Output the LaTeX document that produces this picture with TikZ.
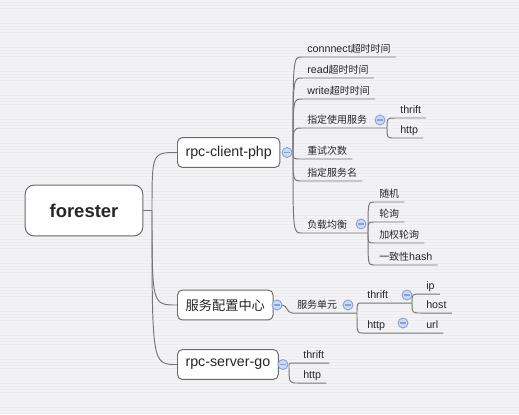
\documentclass[tikz,border=0pt]{standalone}
\usepackage{fontspec}
\setmainfont{Liberation Sans}
\newfontfamily\cjk[Scale=0.93]{Noto Sans CJK SC}
\usepackage{tikz}
\usetikzlibrary{positioning}
\definecolor{canvas}{RGB}{236,236,238}
\definecolor{stripe}{RGB}{243,243,245}
\definecolor{linkgray}{RGB}{118,118,118}
\definecolor{boxgray}{RGB}{105,105,105}
\definecolor{togglefill}{RGB}{203,218,242}
\definecolor{toggleline}{RGB}{135,162,214}
\definecolor{inkgray}{RGB}{38,38,38}

\begin{document}
\begin{tikzpicture}[x=0.02cm, y=-0.02cm,
        topic/.style={draw=boxgray, fill=white, line width=0.55pt, rounded corners=2.8pt, anchor=west, minimum height=17pt, inner xsep=4.6pt, text=inkgray, font=\fontsize{8.1}{10}\selectfont},
        leaf/.style={anchor=south west, inner xsep=2.8pt, inner ysep=1.4pt, text depth=1pt, text=inkgray, font=\fontsize{6.1}{7}\selectfont},
        toggle/.style={circle, draw=toggleline, fill=togglefill, line width=0.5pt, minimum size=5.7pt, inner sep=0pt, path picture={\draw[toggleline, line width=0.6pt] ([xshift=-1.8pt]path picture bounding box.center) -- ([xshift=1.8pt]path picture bounding box.center);}},
        link/.style={draw=linkgray, line width=0.55pt},
        branch/.style={to path={.. controls (\tikztostart |- \tikztotarget) .. (\tikztotarget)}}]
        \useasboundingbox (0,0) rectangle (519,414);
        \fill[canvas] (0,0) rectangle (519,414);
        \foreach \row in {1,4,...,414} \draw[stripe, line width=0.6pt] (0,\row) -- (519,\row);

        % central topic and main branches
        \node[draw=boxgray, fill=white, line width=0.55pt, rounded corners=5pt, minimum width=66.9pt, minimum height=28.9pt, text=inkgray, font=\fontsize{10.5}{12}\selectfont\bfseries] (root) at (84,210.5) {forester};
        \node[topic] (cphp) at (177,152.5) {rpc-client-php};
        \node[topic] (cfg) at (177,305) {\cjk 服务配置中心};
        \node[topic] (sgo) at (177,364.5) {rpc-server-go};

        \coordinate (hub) at (152,210.5);
        \draw[link] (root.east) -- (hub);
        \draw[link] (hub) to[branch] (cphp.west);
        \draw[link] (hub) to[branch] (cfg.west);
        \draw[link] (hub) to[branch] (sgo.west);

        % rpc-client-php
        \coordinate (fA) at (293,152.5);
        \node[leaf] (conn) at (302,57) {connnect\cjk 超时时间};
        \node[leaf] (rdto) at (302,78) {read\cjk 超时时间};
        \node[leaf] (wrto) at (302,99) {write\cjk 超时时间};
        \node[leaf] (usesvc) at (302,128) {\cjk 指定使用服务};
        \node[leaf] (retry) at (302,159) {\cjk 重试次数};
        \node[leaf] (svcname) at (302,181) {\cjk 指定服务名};
        \node[leaf] (lb) at (302,233) {\cjk 负载均衡};
        \foreach \leafnode in {conn, rdto, wrto, retry, svcname}
            \draw[link] (fA) to[branch] (\leafnode.south west) -- (\leafnode.south east);

        \coordinate (fB) at (387,128);
        \draw[link] (fA) to[branch] (usesvc.south west) -- (fB);
        \node[leaf] (uthrift) at (395,118) {thrift};
        \node[leaf] (uhttp) at (395,138) {http};
        \foreach \leafnode in {uthrift, uhttp}
            \draw[link] (fB) to[branch] (\leafnode.south west) -- (\leafnode.south east);

        \coordinate (fC) at (368,233);
        \draw[link] (fA) to[branch] (lb.south west) -- (fC);
        \node[leaf] (rand) at (374,202) {\cjk 随机};
        \node[leaf] (rr) at (374,222) {\cjk 轮询};
        \node[leaf] (wrr) at (374,243) {\cjk 加权轮询};
        \node[leaf] (chash) at (374,265) {\cjk 一致性\rmfamily hash};
        \foreach \leafnode in {rand, rr, wrr, chash}
            \draw[link] (fC) to[branch] (\leafnode.south west) -- (\leafnode.south east);

        % 服务配置中心
        \coordinate (gB) at (282,305);
        \coordinate (fD) at (357,313);
        \coordinate (fE) at (412,303);
        \node[leaf] (unit) at (292,313) {\cjk 服务单元};
        \draw[link] (gB) to[out=0, in=180] (unit.south west) -- (fD);
        \node[leaf] (cthrift) at (362,303) {thrift};
        \node[leaf] (chttp) at (362,333) {http};
        \node[leaf] (url) at (421,333) {url};
        \draw[link] (fD) to[branch] (cthrift.south west) -- (fE);
        \draw[link] (fD) to[branch] (chttp.south west) -- (url.south east);
        \node[leaf] (ip) at (421,294) {ip};
        \node[leaf] (host) at (421,313) {host};
        \foreach \leafnode in {ip, host}
            \draw[link] (fE) to[branch] (\leafnode.south west) -- (\leafnode.south east);

        % rpc-server-go
        \coordinate (fF) at (289,364.5);
        \node[leaf] (sthrift) at (298,363) {thrift};
        \node[leaf] (shttp) at (298,383) {http};
        \foreach \leafnode in {sthrift, shttp}
            \draw[link] (fF) to[branch] (\leafnode.south west) -- (\leafnode.south east);

        % collapse toggles
        \node[toggle] (tg1) at (287,152.5) {};
        \node[toggle] (tg2) at (277,305) {};
        \node[toggle] (tg3) at (283,364.5) {};
        \node[toggle] (tg4) at (380,120) {};
        \node[toggle] (tg5) at (361,224) {};
        \node[toggle] (tg6) at (348,305) {};
        \node[toggle] (tg7) at (407,295) {};
        \node[toggle] (tg8) at (403,323) {};
\end{tikzpicture}
\end{document}
